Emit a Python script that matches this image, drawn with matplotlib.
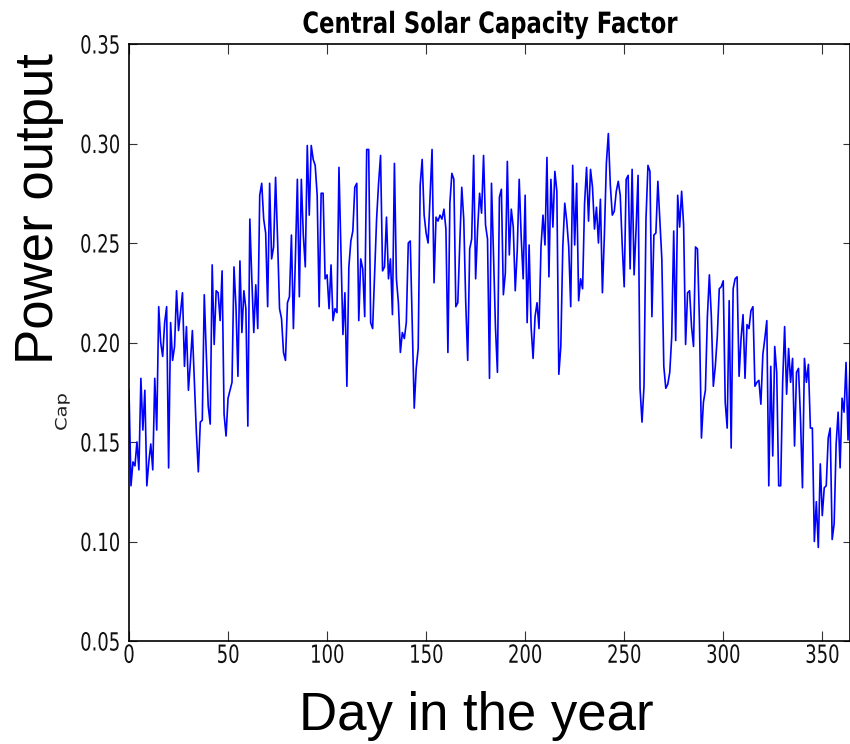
import matplotlib
matplotlib.use("Agg")
import matplotlib.pyplot as plt
import matplotlib.patheffects as pe
from matplotlib.transforms import Affine2D
import numpy as np

# daily capacity factor (day 0 .. 364)
cap_factor = [
    0.176, 0.128, 0.140, 0.138, 0.150, 0.136, 0.182, 0.156, 0.176, 0.128,
    0.140, 0.149, 0.136, 0.182, 0.156, 0.218, 0.200, 0.193, 0.210, 0.218,
    0.137, 0.210, 0.191, 0.198, 0.226, 0.206, 0.215, 0.225, 0.188, 0.208,
    0.176, 0.190, 0.206, 0.180, 0.155, 0.135, 0.160, 0.161, 0.224, 0.195,
    0.168, 0.159, 0.239, 0.199, 0.226, 0.225, 0.211, 0.236, 0.164, 0.153,
    0.172, 0.176, 0.180, 0.238, 0.218, 0.183, 0.241, 0.205, 0.226, 0.217,
    0.158, 0.262, 0.232, 0.205, 0.229, 0.207, 0.274, 0.280, 0.262, 0.255,
    0.218, 0.280, 0.242, 0.248, 0.283, 0.252, 0.217, 0.212, 0.195, 0.191,
    0.220, 0.223, 0.254, 0.207, 0.242, 0.282, 0.223, 0.282, 0.254, 0.238,
    0.299, 0.264, 0.299, 0.292, 0.289, 0.274, 0.218, 0.275, 0.275, 0.232,
    0.234, 0.217, 0.239, 0.211, 0.217, 0.215, 0.288, 0.247, 0.204, 0.225,
    0.178, 0.238, 0.251, 0.256, 0.278, 0.280, 0.211, 0.242, 0.237, 0.213,
    0.297, 0.297, 0.210, 0.207, 0.235, 0.262, 0.280, 0.294, 0.236, 0.238,
    0.263, 0.232, 0.242, 0.214, 0.290, 0.232, 0.220, 0.195, 0.205, 0.202,
    0.210, 0.250, 0.251, 0.208, 0.167, 0.187, 0.197, 0.279, 0.292, 0.264,
    0.255, 0.250, 0.274, 0.297, 0.230, 0.263, 0.261, 0.264, 0.262, 0.267,
    0.257, 0.195, 0.270, 0.285, 0.282, 0.218, 0.220, 0.250, 0.278, 0.262,
    0.220, 0.191, 0.247, 0.252, 0.294, 0.232, 0.257, 0.275, 0.265, 0.294,
    0.259, 0.252, 0.182, 0.280, 0.245, 0.208, 0.185, 0.273, 0.277, 0.224,
    0.235, 0.291, 0.244, 0.267, 0.258, 0.226, 0.246, 0.282, 0.253, 0.232,
    0.274, 0.210, 0.249, 0.208, 0.192, 0.213, 0.220, 0.207, 0.248, 0.264,
    0.249, 0.293, 0.233, 0.282, 0.258, 0.286, 0.276, 0.184, 0.198, 0.248,
    0.270, 0.261, 0.248, 0.218, 0.289, 0.249, 0.280, 0.221, 0.232, 0.227,
    0.270, 0.288, 0.261, 0.287, 0.278, 0.257, 0.268, 0.250, 0.272, 0.225,
    0.254, 0.290, 0.305, 0.279, 0.264, 0.266, 0.276, 0.281, 0.274, 0.249,
    0.228, 0.282, 0.284, 0.237, 0.287, 0.234, 0.257, 0.284, 0.177, 0.160,
    0.178, 0.262, 0.289, 0.286, 0.213, 0.254, 0.255, 0.281, 0.262, 0.242,
    0.188, 0.177, 0.179, 0.185, 0.203, 0.256, 0.201, 0.274, 0.258, 0.276,
    0.259, 0.199, 0.225, 0.226, 0.208, 0.198, 0.248, 0.247, 0.210, 0.152,
    0.170, 0.176, 0.213, 0.234, 0.213, 0.178, 0.188, 0.203, 0.227, 0.228,
    0.231, 0.170, 0.157, 0.221, 0.147, 0.227, 0.232, 0.233, 0.183, 0.202,
    0.214, 0.182, 0.209, 0.207, 0.216, 0.218, 0.178, 0.180, 0.181, 0.169,
    0.194, 0.202, 0.211, 0.128, 0.188, 0.143, 0.198, 0.185, 0.128, 0.128,
    0.180, 0.208, 0.174, 0.197, 0.180, 0.192, 0.148, 0.185, 0.187, 0.162,
    0.127, 0.192, 0.180, 0.189, 0.157, 0.157, 0.100, 0.120, 0.097, 0.139,
    0.113, 0.127, 0.128, 0.152, 0.157, 0.101, 0.109, 0.149, 0.165, 0.137,
    0.172, 0.165, 0.190, 0.151, 0.190,
]
days = np.arange(len(cap_factor))

x_ticks = [0, 50, 100, 150, 200, 250, 300, 350]
y_ticks = [0.05, 0.10, 0.15, 0.20, 0.25, 0.30, 0.35]


class Squeeze(pe.AbstractPathEffect):
    """Draw text narrower in x (the source picture was squashed sideways)."""

    def __init__(self, sx=0.72, anchor="center"):
        super().__init__()
        self.sx = sx
        self.anchor = anchor

    def draw_path(self, renderer, gc, tpath, affine, rgbFace=None):
        ext = tpath.transformed(affine).get_extents()
        if self.anchor == "right":
            ax0 = ext.x1
        elif self.anchor == "left":
            ax0 = ext.x0
        else:
            ax0 = (ext.x0 + ext.x1) / 2
        sq = Affine2D().translate(-ax0, 0).scale(self.sx, 1).translate(ax0, 0)
        renderer.draw_path(gc, tpath, affine + sq, rgbFace)


fig = plt.figure(figsize=(8.5, 7.44), dpi=100)
ax = fig.add_axes([129 / 850, 1 - 641 / 744, 721 / 850, 597 / 744])

ax.plot(days, cap_factor, color="#0000ff", lw=1.2)

ax.set_xlim(0, 364)
ax.set_ylim(0.05, 0.35)
ax.set_xticks(x_ticks)
ax.set_yticks(y_ticks)
ax.set_xticklabels([str(t) for t in x_ticks])
ax.set_yticklabels([f"{t:.2f}" for t in y_ticks])

for s in ax.spines.values():
    s.set_linewidth(1.2)
    s.set_color("black")
ax.tick_params(axis="both", direction="in", top=True, right=True,
               labelsize=18, labelcolor="#111111", color="#333333", width=0.8)
ax.tick_params(axis="x", length=7.2, pad=2)
ax.tick_params(axis="y", length=5.4, pad=6)

for lab in ax.get_xticklabels():
    lab.set_path_effects([Squeeze(0.72, "center")])
for lab in ax.get_yticklabels():
    lab.set_path_effects([Squeeze(0.72, "right")])

ttl = ax.set_title("Central Solar Capacity Factor", fontsize=21,
                   fontweight="bold", pad=8)
ttl.set_path_effects([Squeeze(0.78, "center")])

# remains of the original small y label
cap = fig.text(62 / 850, 1 - 412 / 744, "Cap", rotation=90, fontsize=14,
               color="#222222", ha="center", va="center")
cap.set_path_effects([Squeeze(0.8, "center")])

# big labels laid over the chart
fig.text(53 / 850, 1 - 209 / 744, "Power output", rotation=90,
         rotation_mode="anchor", ha="center", va="baseline",
         fontsize=38, family="Liberation Sans", color="black")
fig.text(476 / 850, 1 - 730 / 744, "Day in the year", ha="center",
         va="baseline", fontsize=38, family="Liberation Sans", color="black")

fig.savefig("out.png", dpi=100)
